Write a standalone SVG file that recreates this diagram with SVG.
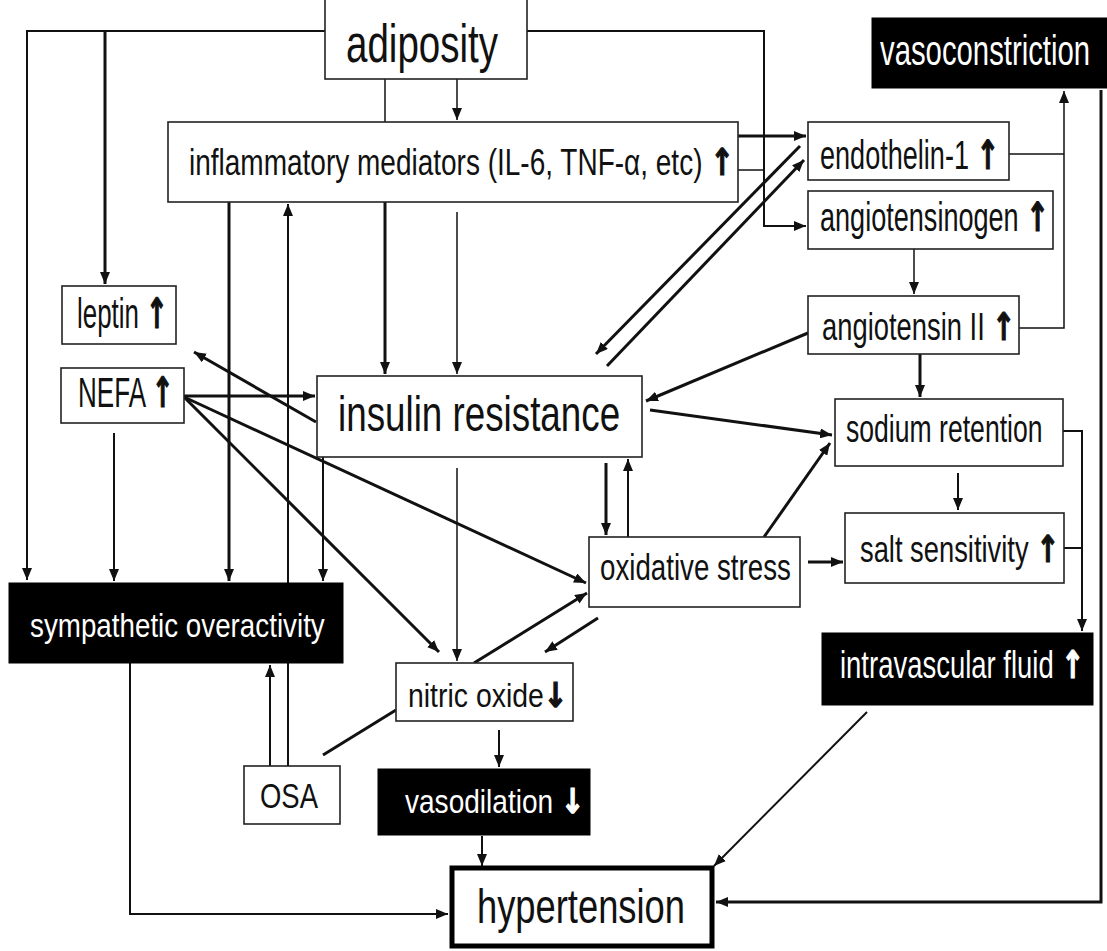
<svg xmlns="http://www.w3.org/2000/svg" width="1107" height="951" viewBox="0 0 1107 951">
<style>
.box{fill:#fff;stroke:#222;stroke-width:1.6}
.blk{fill:#000;stroke:#000;stroke-width:1}
.t{font-family:"Liberation Sans",Arial,sans-serif;fill:#111}
.w{font-family:"Liberation Sans",Arial,sans-serif;fill:#fff}
.ar{font-family:"DejaVu Sans",sans-serif;font-weight:bold}
.t .ar{stroke:#111;stroke-width:1.2}
.w .ar{stroke:#fff;stroke-width:1.2}
.c line,.c polyline{fill:none;stroke:#111}
.k1{stroke-width:1.5}
.k2{stroke-width:2}
.k3{stroke-width:3}
</style>
<defs>
<marker id="a" viewBox="0 0 12 10" refX="12" refY="5" markerWidth="12" markerHeight="10" orient="auto" markerUnits="userSpaceOnUse"><path d="M0,0 L12,5 L0,10 z" fill="#111"/></marker>
</defs>
<rect width="1107" height="951" fill="#fff"/>
<g class="c">
<polyline class="k2" points="325,31 27,31 27,580" marker-end="url(#a)"/>
<line class="k3" x1="105" y1="31" x2="105" y2="284" marker-end="url(#a)"/>
<line class="k1" x1="385" y1="79" x2="385" y2="122"/>
<line class="k1" x1="457" y1="79" x2="457" y2="120" marker-end="url(#a)"/>
<polyline class="k2" points="527,31 764,31 764,226 806,226" marker-end="url(#a)"/>
<line class="k3" x1="738" y1="136" x2="806" y2="136" marker-end="url(#a)"/>
<line class="k1" x1="738" y1="170" x2="764" y2="170"/>
<line class="k3" x1="800" y1="146" x2="596" y2="354" marker-end="url(#a)"/>
<line class="k3" x1="607" y1="366" x2="804" y2="160" marker-end="url(#a)"/>
<line class="k1" x1="1009" y1="154" x2="1064" y2="154"/>
<polyline class="k1" points="1019,328 1064,328 1064,91" marker-end="url(#a)"/>
<line class="k1" x1="914" y1="249" x2="914" y2="294" marker-end="url(#a)"/>
<line class="k3" x1="808" y1="333" x2="646" y2="401" marker-end="url(#a)"/>
<line class="k3" x1="920" y1="354" x2="920" y2="397" marker-end="url(#a)"/>
<line class="k3" x1="650" y1="410" x2="832" y2="435" marker-end="url(#a)"/>
<polyline class="k2" points="1063,431 1082,431 1082,631" marker-end="url(#a)"/>
<line class="k2" x1="1064" y1="548" x2="1082" y2="548"/>
<line class="k2" x1="958" y1="473" x2="958" y2="510" marker-end="url(#a)"/>
<line class="k3" x1="808" y1="562" x2="843" y2="562" marker-end="url(#a)"/>
<line class="k3" x1="764" y1="537" x2="830" y2="443" marker-end="url(#a)"/>
<line class="k3" x1="606" y1="463" x2="606" y2="535" marker-end="url(#a)"/>
<line class="k2" x1="628" y1="537" x2="628" y2="459" marker-end="url(#a)"/>
<line class="k3" x1="184" y1="396" x2="315" y2="396" marker-end="url(#a)"/>
<line class="k3" x1="316" y1="422" x2="194" y2="352" marker-end="url(#a)"/>
<line class="k3" x1="184" y1="397" x2="586" y2="583" marker-end="url(#a)"/>
<line class="k3" x1="184" y1="397" x2="439" y2="652" marker-end="url(#a)"/>
<line class="k2" x1="114" y1="433" x2="114" y2="581" marker-end="url(#a)"/>
<line class="k3" x1="229" y1="202" x2="229" y2="581" marker-end="url(#a)"/>
<line class="k2" x1="288" y1="766" x2="288" y2="204" marker-end="url(#a)"/>
<line class="k2" x1="270" y1="766" x2="270" y2="665" marker-end="url(#a)"/>
<line class="k3" x1="385" y1="202" x2="385" y2="374" marker-end="url(#a)"/>
<line class="k1" x1="457" y1="212" x2="457" y2="374" marker-end="url(#a)"/>
<line class="k2" x1="323" y1="457" x2="323" y2="581" marker-end="url(#a)"/>
<line class="k1" x1="457" y1="468" x2="457" y2="661" marker-end="url(#a)"/>
<line class="k3" x1="474" y1="663" x2="587" y2="593" marker-end="url(#a)"/>
<line class="k3" x1="598" y1="618" x2="545" y2="652" marker-end="url(#a)"/>
<line class="k3" x1="323" y1="755" x2="396" y2="710"/>
<line class="k2" x1="499" y1="730" x2="499" y2="767" marker-end="url(#a)"/>
<line class="k2" x1="482" y1="836" x2="482" y2="866" marker-end="url(#a)"/>
<polyline class="k2" points="130,663 130,914 448,914" marker-end="url(#a)"/>
<line class="k2" x1="867" y1="712" x2="714" y2="866" marker-end="url(#a)"/>
<polyline class="k3" points="1101,90 1101,902 716,902" marker-end="url(#a)"/>
</g>
<g id="adiposity"><rect class="box" x="325" y="-3" width="202" height="82"/><text class="t" font-size="53" transform="translate(346,62) scale(0.727,1)">adiposity</text></g>
<g id="inflammatory"><rect class="box" x="168" y="122" width="570" height="80"/><text class="t" font-size="37" transform="translate(189,175) scale(0.757,1)">inflammatory mediators (IL-6, TNF-α, etc) <tspan class="ar">↑</tspan></text></g>
<g id="vasoconstriction"><rect class="blk" x="872" y="18" width="235" height="70"/><text class="w" font-size="42" transform="translate(880,65) scale(0.698,1)">vasoconstriction</text></g>
<g id="endothelin"><rect class="box" x="808" y="122" width="201" height="58"/><text class="t" font-size="40" transform="translate(820,169) scale(0.677,1)">endothelin-1 <tspan class="ar">↑</tspan></text></g>
<g id="angiotensinogen"><rect class="box" x="808" y="191" width="245" height="58"/><text class="t" font-size="40" transform="translate(820,231) scale(0.677,1)">angiotensinogen <tspan class="ar">↑</tspan></text></g>
<g id="angiotensin2"><rect class="box" x="808" y="296" width="211" height="58"/><text class="t" font-size="38" transform="translate(822,340) scale(0.72,1)">angiotensin II <tspan class="ar">↑</tspan></text></g>
<g id="leptin"><rect class="box" x="62" y="286" width="114" height="58"/><text class="t" font-size="42" transform="translate(77,328) scale(0.616,1)">leptin <tspan class="ar">↑</tspan></text></g>
<g id="nefa"><rect class="box" x="61" y="368" width="123" height="55"/><text class="t" font-size="42" transform="translate(78,407) scale(0.62,1)">NEFA <tspan class="ar">↑</tspan></text></g>
<g id="insulin"><rect class="box" x="317" y="376" width="325" height="81"/><text class="t" font-size="50" transform="translate(338,431) scale(0.736,1)">insulin resistance</text></g>
<g id="sodium"><rect class="box" x="835" y="399" width="228" height="67"/><text class="t" font-size="38" transform="translate(846,442) scale(0.70,1)">sodium retention</text></g>
<g id="salt"><rect class="box" x="845" y="513" width="219" height="70"/><text class="t" font-size="37" transform="translate(860,562) scale(0.739,1)">salt sensitivity <tspan class="ar">↑</tspan></text></g>
<g id="oxidative"><rect class="box" x="589" y="537" width="211" height="70"/><text class="t" font-size="37" transform="translate(600,580) scale(0.749,1)">oxidative stress</text></g>
<g id="sympathetic"><rect class="blk" x="9" y="583" width="334" height="80"/><text class="w" font-size="34" transform="translate(30,637) scale(0.817,1)">sympathetic overactivity</text></g>
<g id="nitric"><rect class="box" x="396" y="663" width="177" height="58"/><text class="t" font-size="34" transform="translate(408,707) scale(0.836,1)">nitric oxide<tspan class="ar">↓</tspan></text></g>
<g id="intravascular"><rect class="blk" x="822" y="633" width="271" height="72"/><text class="w" font-size="38" transform="translate(840,678) scale(0.723,1)">intravascular fluid <tspan class="ar">↑</tspan></text></g>
<g id="osa"><rect class="box" x="244" y="766" width="96" height="58"/><text class="t" font-size="35" transform="translate(260,808) scale(0.785,1)">OSA</text></g>
<g id="vasodilation"><rect class="blk" x="378" y="769" width="212" height="66"/><text class="w" font-size="34" transform="translate(405,813) scale(0.825,1)">vasodilation <tspan class="ar">↓</tspan></text></g>
<g id="hypertension"><rect x="452" y="868" width="260" height="78" fill="#fff" stroke="#000" stroke-width="5"/><text class="t" font-size="48" transform="translate(477,923) scale(0.757,1)">hypertension</text></g>
</svg>
